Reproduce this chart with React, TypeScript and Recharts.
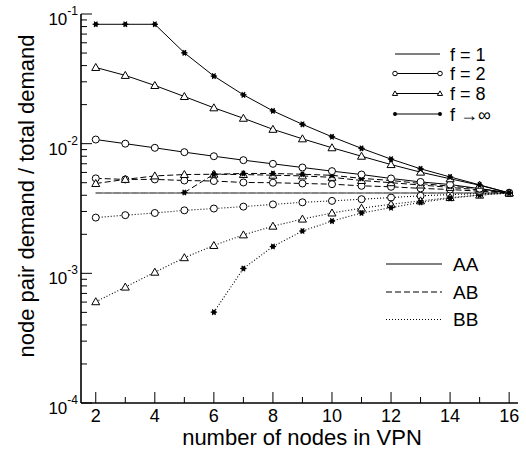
import React from 'react';
import { LineChart, Line, XAxis, YAxis } from 'recharts';

// number of nodes in the VPN
const nodes = [2, 3, 4, 5, 6, 7, 8, 9, 10, 11, 12, 13, 14, 15, 16];

// f = 1 (uniform, 1/240 everywhere)
const f1AA = [0.004167, 0.004167, 0.004167, 0.004167, 0.004167, 0.004167, 0.004167, 0.004167, 0.004167, 0.004167, 0.004167, 0.004167, 0.004167, 0.004167, 0.004167];
const f1AB = [0.004167, 0.004167, 0.004167, 0.004167, 0.004167, 0.004167, 0.004167, 0.004167, 0.004167, 0.004167, 0.004167, 0.004167, 0.004167, 0.004167, 0.004167];
const f1BB = [0.004167, 0.004167, 0.004167, 0.004167, 0.004167, 0.004167, 0.004167, 0.004167, 0.004167, 0.004167, 0.004167, 0.004167, 0.004167, 0.004167, 0.004167];

// f = 2
const f2AA = [0.01076, 0.0100, 0.00929, 0.0086, 0.0080, 0.00746, 0.00699, 0.00655, 0.00614, 0.00578, 0.00539, 0.00507, 0.00484, 0.0045, 0.004167];
const f2AB = [0.0054, 0.0053, 0.0053, 0.0052, 0.00515, 0.00502, 0.005, 0.00493, 0.00487, 0.00473, 0.00465, 0.00452, 0.00443, 0.0043, 0.004167];
const f2BB = [0.00269, 0.00281, 0.00292, 0.00306, 0.00316, 0.00327, 0.0034, 0.00353, 0.00362, 0.00373, 0.00384, 0.00396, 0.00405, 0.00412, 0.004167];

// f = 8
const f8AA = [0.0387, 0.0336, 0.0281, 0.0231, 0.0189, 0.0157, 0.0129, 0.0109, 0.0093, 0.0080, 0.0069, 0.00603, 0.00536, 0.00478, 0.004167];
const f8AB = [0.00493, 0.0053, 0.00564, 0.00578, 0.00581, 0.00578, 0.00571, 0.00564, 0.0055, 0.0052, 0.0050, 0.0048, 0.0046, 0.0044, 0.004167];
const f8BB = [0.000604, 0.000783, 0.00102, 0.00132, 0.00164, 0.00198, 0.00231, 0.00262, 0.00292, 0.00318, 0.00341, 0.00362, 0.00384, 0.00401, 0.004167];

// f -> infinity
const fInfAA = [0.0833, 0.0833, 0.0833, 0.0502, 0.0332, 0.0238, 0.0179, 0.0141, 0.0113, 0.0092, 0.0076, 0.00640, 0.00554, 0.00481, 0.004167];
const fInfAB = [null, null, null, 0.0042, 0.00581, 0.00589, 0.00589, 0.00581, 0.0057, 0.0054, 0.0052, 0.00493, 0.0047, 0.0045, 0.004167];
const fInfBB = [null, null, null, null, 0.000502, 0.00109, 0.00161, 0.00212, 0.00253, 0.00292, 0.00321, 0.00353, 0.00379, 0.00401, 0.004167];

const xTicks = [2, 3, 4, 5, 6, 7, 8, 9, 10, 11, 12, 13, 14, 15, 16];
const yDecades = [1e-4, 1e-3, 1e-2, 1e-1];
const yExponents = ['-4', '-3', '-2', '-1'];
const minorSteps = [2, 3, 4, 5, 6, 7, 8, 9];

const FONT = '"Liberation Sans", Arial, Helvetica, sans-serif';

type Marker = 'none' | 'circle' | 'triangle' | 'star';
type Pair = 'AA' | 'AB' | 'BB';

const series: { key: string; values: (number | null)[]; pair: Pair; marker: Marker; gray?: boolean }[] = [
  { key: 'f1BB', values: f1BB, pair: 'BB', marker: 'none', gray: true },
  { key: 'f1AB', values: f1AB, pair: 'AB', marker: 'none', gray: true },
  { key: 'f1AA', values: f1AA, pair: 'AA', marker: 'none', gray: true },
  { key: 'f2BB', values: f2BB, pair: 'BB', marker: 'circle' },
  { key: 'f8BB', values: f8BB, pair: 'BB', marker: 'triangle' },
  { key: 'fInfBB', values: fInfBB, pair: 'BB', marker: 'star' },
  { key: 'f2AB', values: f2AB, pair: 'AB', marker: 'circle' },
  { key: 'f8AB', values: f8AB, pair: 'AB', marker: 'triangle' },
  { key: 'fInfAB', values: fInfAB, pair: 'AB', marker: 'star' },
  { key: 'f2AA', values: f2AA, pair: 'AA', marker: 'circle' },
  { key: 'f8AA', values: f8AA, pair: 'AA', marker: 'triangle' },
  { key: 'fInfAA', values: fInfAA, pair: 'AA', marker: 'star' },
];

const dashFor = (p: Pair) => (p === 'AA' ? undefined : p === 'AB' ? '6 3' : '1 2');

const yTicks: number[] = [];
yDecades.forEach((d, i) => {
  yTicks.push(d);
  if (i < yDecades.length - 1) minorSteps.forEach(m => yTicks.push(m * d));
});

const isMajorY = (v: number) => yDecades.some(d => Math.abs(v - d) / d < 1e-6);

const data = nodes.map((n, i) => {
  const row: any = { n };
  series.forEach(s => { row[s.key] = s.values[i]; });
  return row;
});

const MarkerShape = ({ kind, cx, cy, k = 1 }: { kind: Marker; cx: number; cy: number; k?: number }) => {
  if (kind === 'circle') {
    return <circle cx={cx} cy={cy} r={3.5 * k} fill="#fff" stroke="#000" strokeWidth={1} />;
  }
  if (kind === 'triangle') {
    const s = 4 * k;
    return (
      <polygon
        points={`${cx},${cy - s} ${cx - s},${cy + s * 0.75} ${cx + s},${cy + s * 0.75}`}
        fill="#fff"
        stroke="#000"
        strokeWidth={1}
      />
    );
  }
  if (kind === 'star') {
    const r = 3.2 * k;
    return (
      <g stroke="#000" strokeWidth={1.2}>
        <line x1={cx - r} y1={cy} x2={cx + r} y2={cy} />
        <line x1={cx - r * 0.5} y1={cy - r * 0.87} x2={cx + r * 0.5} y2={cy + r * 0.87} />
        <line x1={cx + r * 0.5} y1={cy - r * 0.87} x2={cx - r * 0.5} y2={cy + r * 0.87} />
        <circle cx={cx} cy={cy} r={1.6 * k} fill="#000" />
      </g>
    );
  }
  return null;
};

const makeDot = (kind: Marker, key: string) => (props: any) => {
  const { cx, cy, index } = props;
  if (cx == null || cy == null || isNaN(cx) || isNaN(cy)) return <g key={`${key}-${index}`} />;
  return (
    <g key={`${key}-${index}`}>
      <MarkerShape kind={kind} cx={cx} cy={cy} />
    </g>
  );
};

const BottomTick = (props: any) => {
  const { x, y, payload } = props;
  const major = payload.value % 2 === 0;
  return (
    <g>
      <line x1={x} y1={y} x2={x} y2={y - (major ? 11 : 6)} stroke="#000" strokeWidth={1} />
      {major && (
        <text x={x} y={y + 19} textAnchor="middle" fontSize={18} fontFamily={FONT} fill="#000">
          {payload.value}
        </text>
      )}
    </g>
  );
};

const TopTick = (props: any) => {
  const { x, y, payload } = props;
  const major = payload.value % 2 === 0;
  return <line x1={x} y1={y} x2={x} y2={y + (major ? 11 : 6)} stroke="#000" strokeWidth={1} />;
};

const LeftTick = (props: any) => {
  const { x, y, payload } = props;
  const major = isMajorY(payload.value);
  const idx = yDecades.findIndex(d => Math.abs(payload.value - d) / d < 1e-6);
  return (
    <g>
      <line x1={x} y1={y} x2={x + (major ? 11 : 6)} y2={y} stroke="#000" strokeWidth={1} />
      {major && (
        <text x={x - 3} y={y + 11} textAnchor="end" fontSize={17} fontFamily={FONT} fill="#000">
          10
          <tspan dy={-10} fontSize={12}>{yExponents[idx]}</tspan>
        </text>
      )}
    </g>
  );
};

const RightTick = (props: any) => {
  const { x, y, payload } = props;
  const major = isMajorY(payload.value);
  return <line x1={x} y1={y} x2={x - (major ? 11 : 6)} y2={y} stroke="#000" strokeWidth={1} />;
};

const axisLine = { stroke: '#000', strokeWidth: 1.6 };

const Overlay = () => {
  const legendF: { label: string; marker: Marker; y: number }[] = [
    { label: 'f = 1', marker: 'none', y: 54 },
    { label: 'f = 2', marker: 'circle', y: 73.5 },
    { label: 'f = 8', marker: 'triangle', y: 93.5 },
    { label: 'f \u2192\u221E', marker: 'star', y: 114 },
  ];
  const legendP: { label: Pair; y: number }[] = [
    { label: 'AA', y: 264 },
    { label: 'AB', y: 292 },
    { label: 'BB', y: 319.5 },
  ];
  return (
    <svg width={526} height={450} style={{ position: 'absolute', left: 0, top: 0, pointerEvents: 'none' }}>
      {legendF.map(l => (
        <g key={l.label}>
          <line x1={395} y1={l.y} x2={440} y2={l.y} stroke="#000" strokeWidth={1} />
          <MarkerShape kind={l.marker} cx={395} cy={l.y} k={0.65} />
          <MarkerShape kind={l.marker} cx={440} cy={l.y} k={0.65} />
          <text x={450} y={l.y + 6.5} fontSize={18} fontFamily={FONT} fill="#000">{l.label}</text>
        </g>
      ))}
      {legendP.map(l => (
        <g key={l.label}>
          <line x1={386} y1={l.y} x2={442} y2={l.y} stroke="#000" strokeWidth={1} strokeDasharray={dashFor(l.label)} />
          <text x={453} y={l.y + 6.5} fontSize={19} fontFamily={FONT} fill="#000">{l.label}</text>
        </g>
      ))}
      <text x={302} y={445} textAnchor="middle" fontSize={22} fontFamily={FONT} fill="#000">
        number of nodes in VPN
      </text>
      <text
        x={34}
        y={196}
        textAnchor="middle"
        fontSize={22}
        fontFamily={FONT}
        fill="#000"
        transform="rotate(-90 34 196)"
      >
        node pair demand / total demand
      </text>
    </svg>
  );
};

export default function App() {
  return (
    <div style={{ position: 'absolute', left: 0, top: 0, width: 526, height: 450, background: '#fff' }}>
      <LineChart width={526} height={450} data={data} margin={{ top: 14, right: 8, left: 0, bottom: 0 }}>
        <XAxis
          xAxisId="bottom"
          dataKey="n"
          type="number"
          domain={[1.5, 16.3]}
          ticks={xTicks}
          interval={0}
          allowDataOverflow
          height={47}
          tickSize={0}
          tickMargin={0}
          tickLine={false}
          axisLine={axisLine}
          tick={BottomTick}
        />
        <XAxis
          xAxisId="top"
          orientation="top"
          dataKey="n"
          type="number"
          domain={[1.5, 16.3]}
          ticks={xTicks}
          interval={0}
          allowDataOverflow
          height={0}
          tickSize={0}
          tickMargin={0}
          tickLine={false}
          axisLine={axisLine}
          tick={TopTick}
        />
        <YAxis
          yAxisId="left"
          type="number"
          scale="log"
          domain={[1e-4, 1e-1]}
          ticks={yTicks}
          interval={0}
          allowDataOverflow
          width={81}
          tickSize={0}
          tickMargin={0}
          tickLine={false}
          axisLine={axisLine}
          tick={LeftTick}
        />
        <YAxis
          yAxisId="right"
          orientation="right"
          type="number"
          scale="log"
          domain={[1e-4, 1e-1]}
          ticks={yTicks}
          interval={0}
          allowDataOverflow
          width={0}
          tickSize={0}
          tickMargin={0}
          tickLine={false}
          axisLine={axisLine}
          tick={RightTick}
        />
        {series.map(s => (
          <Line
            key={s.key}
            xAxisId="bottom"
            yAxisId="left"
            dataKey={s.key}
            type="linear"
            stroke={s.gray ? '#808080' : '#000'}
            strokeWidth={s.gray ? 1.4 : s.pair === 'BB' ? 1.1 : 1}
            strokeDasharray={dashFor(s.pair)}
            dot={s.marker === 'none' ? false : makeDot(s.marker, s.key)}
            activeDot={false}
            connectNulls={false}
            isAnimationActive={false}
          />
        ))}
      </LineChart>
      <Overlay />
    </div>
  );
}
